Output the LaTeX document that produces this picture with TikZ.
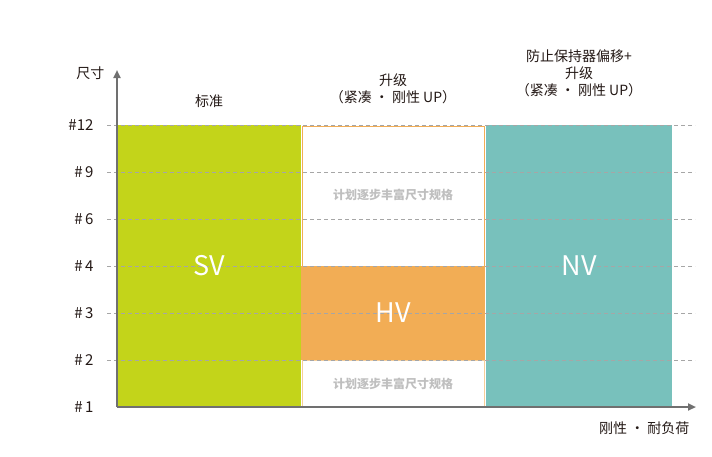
\documentclass[tikz,border=0pt]{standalone}
\usepackage{fontspec}
\setmainfont{Noto Sans CJK SC}
\usetikzlibrary{arrows.meta}
\definecolor{svg}{HTML}{C3D41A}
\definecolor{hvo}{HTML}{F2AD55}
\definecolor{nvt}{HTML}{78C1BC}
\definecolor{axg}{HTML}{707070}
\definecolor{txt}{HTML}{231815}
\begin{document}
\begin{tikzpicture}[x=1pt,y=-1pt,
  lvl/.style={font=\fontsize{15}{15}\selectfont,text=txt,anchor=east},
  big/.style={font=\fontsize{27}{27}\selectfont,text=white},
  plan/.style={font=\fontsize{12}{12}\selectfont\bfseries,text=black!25},
  head/.style={font=\fontsize{14}{17}\selectfont,text=txt,align=center},
  grid/.style={draw=black!35,dashed,dash pattern=on 4pt off 3pt,line width=0.6pt}]
\useasboundingbox (0,0) rectangle (712,456);
\fill[svg] (117,125) rectangle (301,407);
\draw[hvo,fill=white,line width=1pt] (302,126) rectangle (484,266);
\fill[hvo] (301,266) rectangle (485,360);
\draw[hvo!60,fill=white,line width=1pt] (302,360) rectangle (484,407);
\fill[nvt] (486,125) rectangle (672,407);
\foreach \y in {125,172,219,266,313,360}{\draw[grid] (107,\y) -- (695,\y);}
\node[lvl] (l12) at (97,125) {\#12};
\node[lvl] (l9) at (97,172) {\#\,9};
\node[lvl] (l6) at (97,219) {\#\,6};
\node[lvl] (l4) at (97,266) {\#\,4};
\node[lvl] (l3) at (97,313) {\#\,3};
\node[lvl] (l2) at (97,360) {\#\,2};
\node[lvl] (l1) at (97,407) {\#\,1};
\coordinate (o) at (117,407);
\coordinate (ytop) at (117,70);
\coordinate (xend) at (696,407);
\draw[axg,line width=2.2pt,-{Triangle[length=8pt,width=7pt]}] (o) -- (ytop);
\draw[axg,line width=2.2pt,-{Triangle[length=8pt,width=7pt]}] (o) -- (xend);
\node[head,anchor=east] (yl) at (108,73) {尺寸};
\node[head,anchor=north east] (xl) at (693,418) {刚性 · 耐负荷};
\node[head] (h1) at (209,101) {标准};
\node[head] (h2) at (393,89) {升级\\（紧凑 · 刚性 UP）};
\node[head] (h3) at (579,73) {防止保持器偏移+\\升级\\（紧凑 · 刚性 UP）};
\node[big] (sv) at (209,266) {SV};
\node[big] (hv) at (393,313) {HV};
\node[big] (nv) at (579,266) {NV};
\node[plan] (p1) at (393,195) {计划逐步丰富尺寸规格};
\node[plan] (p2) at (393,384) {计划逐步丰富尺寸规格};
\end{tikzpicture}
\end{document}
